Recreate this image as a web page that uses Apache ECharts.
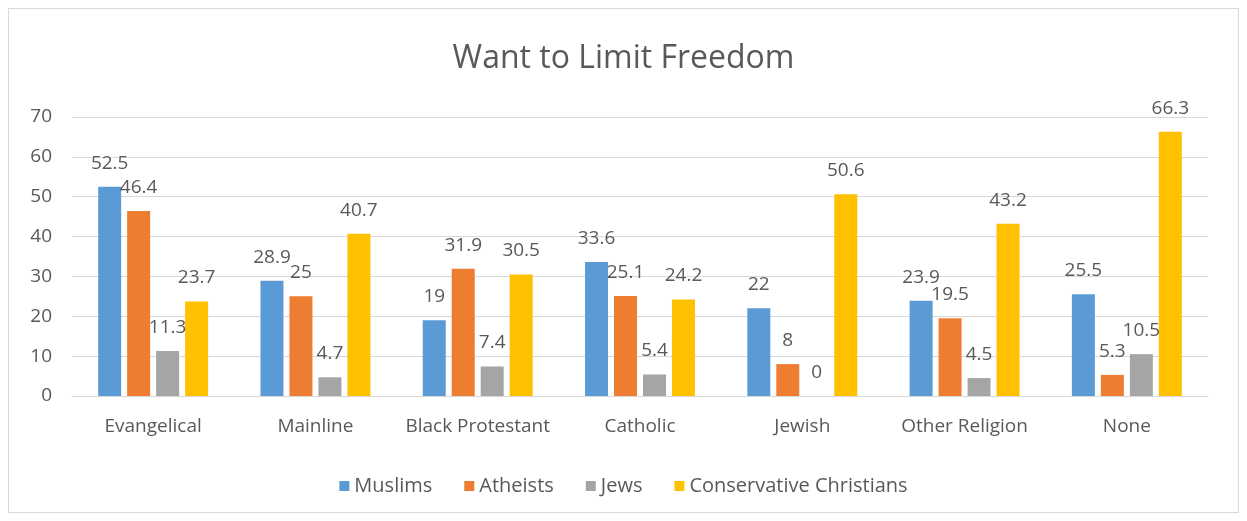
<!DOCTYPE html>
<html><head><meta charset="utf-8">
<script src="https://cdn.jsdelivr.net/npm/echarts@6/dist/echarts.min.js"></script>
<style>
html,body{margin:0;padding:0;background:#fff;}
#frame{position:absolute;left:8px;top:8px;width:1231px;height:505px;border:1px solid #d9d9d9;box-sizing:border-box;}
#chart{position:absolute;left:0;top:0;width:1247px;height:521px;}
</style></head>
<body><div id="frame"></div><div id="chart"></div>
<script>
const categories = ['Evangelical','Mainline','Black Protestant','Catholic','Jewish','Other Religion','None'];
const muslims = [52.5, 28.9, 19, 33.6, 22, 23.9, 25.5];
const atheists = [46.4, 25, 31.9, 25.1, 8, 19.5, 5.3];
const jews = [11.3, 4.7, 7.4, 5.4, 0, 4.5, 10.5];
const conservativeChristians = [23.7, 40.7, 30.5, 24.2, 50.6, 43.2, 66.3];
const yTicks = [0, 10, 20, 30, 40, 50, 60, 70];

const font = 'Open Sans';
const txt = '#595959';
function mk(name, data, color) {
  return {
    name: name, type: 'bar', data: data, barWidth: 23, barGap: '26%',
    itemStyle: {color: color},
    label: {show: true, position: 'top', distance: 14, color: txt, fontFamily: font, fontSize: 19}
  };
}
const chart = echarts.init(document.getElementById('chart'));
chart.setOption({
  animation: false,
  title: {text: 'Want to Limit Freedom', left: 'center', top: 38,
    textStyle: {fontFamily: font, fontSize: 32, fontWeight: 'normal', color: txt}},
  legend: {bottom: 20, itemWidth: 10, itemHeight: 10, itemGap: 32, icon: 'rect',
    textStyle: {fontFamily: font, fontSize: 20, color: txt}},
  grid: {left: 72, right: 39, top: 117, bottom: 125},
  xAxis: {type: 'category', data: categories,
    axisLine: {lineStyle: {color: '#d9d9d9'}}, axisTick: {show: false},
    axisLabel: {interval: 0, fontFamily: font, fontSize: 19, color: txt, margin: 21}},
  yAxis: {type: 'value', min: yTicks[0], max: yTicks[yTicks.length-1], interval: 10,
    axisLine: {show: false}, axisTick: {show: false},
    splitLine: {lineStyle: {color: '#d9d9d9'}},
    axisLabel: {fontFamily: font, fontSize: 19, color: txt, margin: 20}},
  series: [
    mk('Muslims', muslims, '#5B9BD5'),
    mk('Atheists', atheists, '#ED7D31'),
    mk('Jews', jews, '#A5A5A5'),
    mk('Conservative Christians', conservativeChristians, '#FFC000')
  ]
});
</script></body></html>
